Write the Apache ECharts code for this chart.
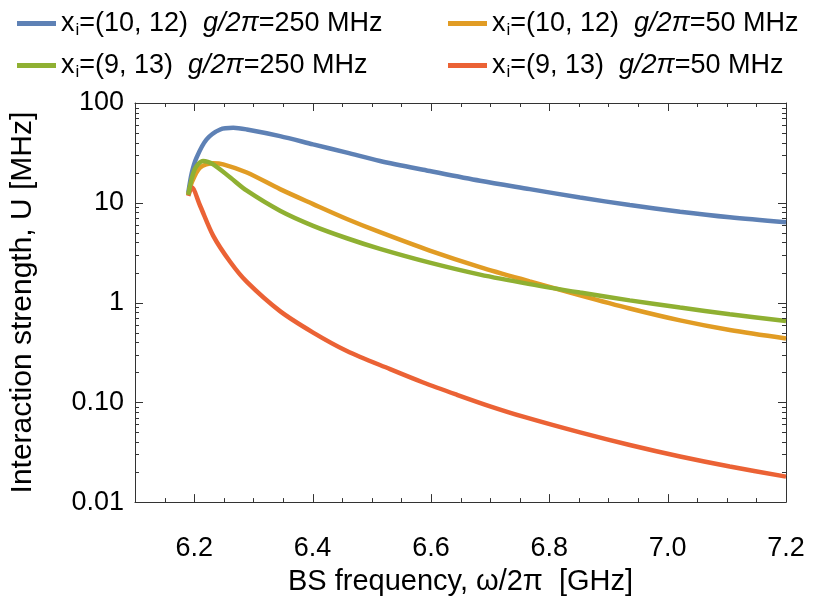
<!DOCTYPE html>
<html><head><meta charset="utf-8">
<script src="https://cdn.jsdelivr.net/npm/echarts@6/dist/echarts.min.js"></script>
<style>html,body{margin:0;padding:0;background:#fff}#c{width:832px;height:601px}</style>
</head><body><div id="c"></div>
<script>
// ---- data ----
const seriesNames = ['x_i=(10, 12) 250', 'x_i=(10, 12) 50', 'x_i=(9, 13) 250', 'x_i=(9, 13) 50'];
const legendTexts = [
  'x{sub|i}=(10, 12)  {it|g/2π}=250 MHz',
  'x{sub|i}=(10, 12)  {it|g/2π}=50 MHz',
  'x{sub|i}=(9, 13)  {it|g/2π}=250 MHz',
  'x{sub|i}=(9, 13)  {it|g/2π}=50 MHz'
];
const blueFreq = [6.19, 6.196, 6.204, 6.221, 6.244, 6.266, 6.289, 6.345, 6.401, 6.458, 6.514, 6.598, 6.683, 6.767, 6.852, 6.936, 7.021, 7.105, 7.2];
const blueVal  = [12.5, 20, 28.4, 43.2, 54.3, 56.5, 54.3, 46.6, 38.5, 31.8, 26.2, 20.8, 16.6, 13.7, 11.3, 9.49, 8.13, 7.15, 6.38];
const orangeFreq = [6.19, 6.196, 6.210, 6.232, 6.249, 6.289, 6.345, 6.401, 6.458, 6.514, 6.598, 6.683, 6.767, 6.852, 6.936, 7.021, 7.105, 7.2];
const orangeVal  = [12, 16.0, 22.5, 24.9, 24.3, 20.1, 13.7, 9.70, 6.88, 5.07, 3.32, 2.27, 1.63, 1.18, 0.871, 0.662, 0.530, 0.436];
const greenFreq = [6.19, 6.201, 6.215, 6.232, 6.261, 6.289, 6.345, 6.401, 6.458, 6.514, 6.598, 6.683, 6.767, 6.852, 6.936, 7.021, 7.105, 7.2];
const greenVal  = [12, 21.7, 26.2, 24.3, 17.9, 13.2, 8.32, 5.87, 4.41, 3.45, 2.51, 1.905, 1.531, 1.259, 1.052, 0.891, 0.762, 0.652];
const redFreq = [6.19, 6.196, 6.210, 6.232, 6.261, 6.289, 6.345, 6.401, 6.458, 6.531, 6.587, 6.644, 6.700, 6.756, 6.852, 6.936, 7.021, 7.105, 7.2];
const redVal  = [11.7, 14.2, 9.34, 4.69, 2.55, 1.61, 0.82, 0.50, 0.327, 0.215, 0.158, 0.119, 0.0912, 0.0718, 0.0499, 0.0373, 0.0286, 0.0227, 0.0180];
const xTickValues = [6.2, 6.4, 6.6, 6.8, 7.0, 7.2];
const xTickLabels = ['6.2', '6.4', '6.6', '6.8', '7.0', '7.2'];
const xMinorTicks = [6.15, 6.25, 6.3, 6.35, 6.45, 6.5, 6.55, 6.65, 6.7, 6.75, 6.85, 6.9, 6.95, 7.05, 7.1, 7.15];
const yTickValues = [0.01, 0.1, 1, 10, 100];
const yTickLabels = ['0.01', '0.10', '1', '10', '100'];
const yMinorTicks = [0.02,0.03,0.04,0.05,0.06,0.07,0.08,0.09,0.2,0.3,0.4,0.5,0.6,0.7,0.8,0.9,2,3,4,5,6,7,8,9,20,30,40,50,60,70,80,90];

// ---- chart ----
const X_MIN = 6.1, X_MAX = 7.2, Y_MIN = 0.01, Y_MAX = 100;
const colors = ['#5E81B5', '#E19C24', '#8FB032', '#EB6235'];
const freqs = [blueFreq, orangeFreq, greenFreq, redFreq];
const vals = [blueVal, orangeVal, greenVal, redVal];
const FONT = 'Liberation Sans, Arial, sans-serif';
const frameColor = '#333';
const MAJOR_LEN = 8, MINOR_LEN = 4;

function pairs(xs, ys) { return xs.map((x, i) => [x, ys[i]]); }

const xAxes = [{
  type: 'value', min: X_MIN, max: X_MAX, interval: 0.1, position: 'bottom',
  axisLine: { show: true, onZero: false, lineStyle: { color: frameColor, width: 1 } },
  axisTick: { show: false },
  axisLabel: {
    show: true, margin: 33, color: '#000', fontSize: 27, fontFamily: FONT, showMinLabel: true, showMaxLabel: true,
    formatter: v => { const k = xTickValues.findIndex(t => Math.abs(t - v) < 1e-6); return k >= 0 ? xTickLabels[k] : ''; }
  },
  splitLine: { show: false },
  name: 'BS frequency, ω/2π  [GHz]', nameLocation: 'middle', nameGap: 63,
  nameTextStyle: { color: '#000', fontSize: 29, fontFamily: FONT }
}, {
  type: 'value', min: X_MIN, max: X_MAX, position: 'top',
  axisLine: { show: true, onZero: false, lineStyle: { color: frameColor, width: 1 } },
  axisTick: { show: false }, axisLabel: { show: false }, splitLine: { show: false }
}];
const yAxes = [{
  type: 'log', logBase: 10, min: Y_MIN, max: Y_MAX, interval: 1, position: 'left',
  axisLine: { show: true, onZero: false, lineStyle: { color: frameColor, width: 1 } },
  axisTick: { show: false },
  axisLabel: {
    show: true, margin: 11, color: '#000', fontSize: 27, fontFamily: FONT,
    formatter: v => { const k = yTickValues.findIndex(t => Math.abs(Math.log10(t) - Math.log10(v)) < 1e-6); return k >= 0 ? yTickLabels[k] : ''; }
  },
  splitLine: { show: false },
  name: 'Interaction strength, U [MHz]', nameLocation: 'middle', nameGap: 97,
  nameTextStyle: { color: '#000', fontSize: 30, fontFamily: FONT }
}, {
  type: 'log', logBase: 10, min: Y_MIN, max: Y_MAX, position: 'right',
  axisLine: { show: true, onZero: false, lineStyle: { color: frameColor, width: 1 } },
  axisTick: { show: false }, axisLabel: { show: false }, splitLine: { show: false }
}];

const legendPos = [[17, 10], [448, 10], [17, 52], [448, 52]];
const richStyles = {
  sub: { fontSize: 17, fontFamily: FONT, color: '#000', padding: [14, 0, 0, 1] },
  it: { fontSize: 27, fontFamily: FONT, fontStyle: 'italic', color: '#000' }
};
const legends = seriesNames.map((n, i) => ({
  data: [n], left: legendPos[i][0], top: legendPos[i][1], icon: 'rect',
  itemWidth: 39, itemHeight: 5, itemGap: 4, padding: 0,
  formatter: () => legendTexts[i],
  textStyle: { fontSize: 27, fontFamily: FONT, color: '#000', rich: richStyles }
}));

const series = seriesNames.map((n, i) => ({
  name: n, type: 'line', xAxisIndex: 0, yAxisIndex: 0,
  data: pairs(freqs[i], vals[i]), smooth: 0.3, showSymbol: false, symbol: 'none',
  lineStyle: { color: colors[i], width: 4.5 }, itemStyle: { color: colors[i] },
  clip: false, z: 3 + (i === 2 ? 1 : 0)
}));

const chart = echarts.init(document.getElementById('c'), null, { renderer: 'canvas' });
chart.setOption({
  animation: false,
  backgroundColor: '#fff',
  color: colors,
  grid: { left: 135, right: 46, top: 103, bottom: 96, containLabel: false },
  legend: legends,
  xAxis: xAxes,
  yAxis: yAxes,
  series: series
});

// frame ticks, placed through the axes' own scales
const els = [];
function tick(x1, y1, x2, y2) {
  els.push({ type: 'line', silent: true, z: 50,
    shape: { x1, y1, x2, y2 }, style: { stroke: frameColor, lineWidth: 1 } });
}
const yBot = chart.convertToPixel({ yAxisIndex: 0 }, Y_MIN);
const yTop = chart.convertToPixel({ yAxisIndex: 0 }, Y_MAX);
const xLeft = chart.convertToPixel({ xAxisIndex: 0 }, X_MIN);
const xRight = chart.convertToPixel({ xAxisIndex: 0 }, X_MAX);
xTickValues.map(v => [v, MAJOR_LEN]).concat(xMinorTicks.map(v => [v, MINOR_LEN])).forEach(([v, len]) => {
  const x = Math.round(chart.convertToPixel({ xAxisIndex: 0 }, v)) + 0.5;
  tick(x, yBot, x, yBot - len);
  tick(x, yTop, x, yTop + len);
});
yTickValues.map(v => [v, MAJOR_LEN]).concat(yMinorTicks.map(v => [v, MINOR_LEN])).forEach(([v, len]) => {
  const y = Math.round(chart.convertToPixel({ yAxisIndex: 0 }, v)) + 0.5;
  tick(xLeft, y, xLeft + len, y);
  tick(xRight, y, xRight - len, y);
});
chart.setOption({ graphic: { elements: els } });
</script></body></html>
